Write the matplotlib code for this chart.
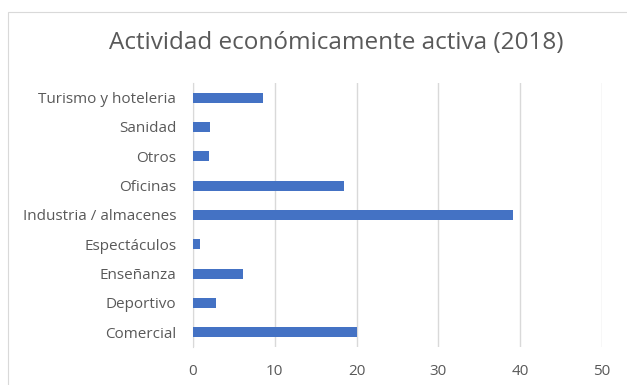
import matplotlib.pyplot as plt
from matplotlib.patches import Rectangle

# actividad economicamente activa, 2018
categorias = ["Comercial", "Deportivo", "Enseñanza", "Espectáculos",
              "Industria / almacenes", "Oficinas", "Otros", "Sanidad",
              "Turismo y hoteleria"]
valores = [20.0, 2.8, 6.1, 0.9, 39.1, 18.5, 1.9, 2.1, 8.5]
xticks = [0, 10, 20, 30, 40, 50]

plt.rcParams['font.family'] = ['Open Sans', 'DejaVu Sans']
gris_texto = "#595959"
gris_lineas = "#d9d9d9"
azul = "#4472c4"

fig = plt.figure(figsize=(6.27, 3.85), dpi=100)

# marco del grafico
fig.patches.append(Rectangle((8 / 627, -0.01), 1.0, 1 - 12 / 385 + 0.01,
                             transform=fig.transFigure, fill=False,
                             edgecolor=gris_lineas, linewidth=0.8))

ax = fig.add_axes([193 / 627, 1 - 347 / 385, 409 / 627, 264 / 385])
pos = range(len(categorias))
ax.barh(pos, valores, height=0.35, color=azul, zorder=3)

ax.set_xlim(0, 50)
ax.set_ylim(-0.5, len(categorias) - 0.5)
ax.set_xticks(xticks)
ax.set_yticks(list(pos))
ax.set_yticklabels(categorias)
ax.grid(axis='x', color=gris_lineas, linewidth=1, zorder=0)
ax.tick_params(axis='both', length=0, labelsize=11, colors=gris_texto)
ax.tick_params(axis='y', pad=12)
ax.tick_params(axis='x', pad=12)
for s in ['top', 'right', 'bottom']:
    ax.spines[s].set_visible(False)
ax.spines['left'].set_color(gris_lineas)

fig.text(336 / 627, 1 - 43 / 385, "Actividad económicamente activa (2018)",
         ha='center', va='center', fontsize=17.5, color=gris_texto)

fig.savefig("out.png", dpi=100)
